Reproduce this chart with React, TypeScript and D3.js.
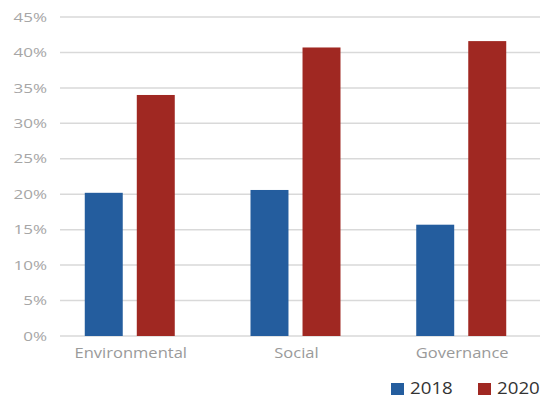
import React from "react";
import * as d3 from "d3";

const categories = ["Environmental", "Social", "Governance"];
const seriesNames = ["2018", "2020"];
const values2018 = [20.2, 20.6, 15.7];
const values2020 = [34.0, 40.7, 41.6];
const yTicks = [0, 5, 10, 15, 20, 25, 30, 35, 40, 45];
const colors = ["#245d9e", "#a02822"];

export default function App() {
  const W = 540, H = 398;
  const y = d3.scaleLinear().domain([0, 45]).range([336, 17]);
  const x0 = d3.scaleBand().domain(categories).range([47.4, 544.6]).paddingInner(0).paddingOuter(0);
  const x1 = d3.scaleBand().domain(seriesNames).range([-45.5, 44.5]).paddingInner(0.27).paddingOuter(0);
  const series = [values2018, values2020];
  const font = "'Open Sans', 'Noto Sans', sans-serif";
  return (
    <svg width={W} height={H} style={{ position: "absolute", left: 0, top: 0, background: "#fff" }}>
      {yTicks.map((t) => (
        <g key={t}>
          <line x1={60} x2={540} y1={y(t)} y2={y(t)} stroke="#d9d9d9" strokeWidth={1.5} />
          <text
            transform={`translate(47,${y(t)}) scale(1.28,1)`}
            dy="0.35em"
            textAnchor="end"
            fontFamily={font}
            fontSize={13.3}
            fill="#a6a6a6"
          >
            {t}%
          </text>
        </g>
      ))}
      {categories.map((c, i) => {
        const cx = x0(c)! + x0.bandwidth() / 2;
        return (
          <g key={c}>
            {seriesNames.map((s, j) => (
              <rect
                key={s}
                x={cx + x1(s)!}
                width={x1.bandwidth()}
                y={y(series[j][i])}
                height={y(0) - y(series[j][i])}
                fill={colors[j]}
              />
            ))}
            <text
              transform={`translate(${cx + 0.5},358) scale(1.14,1)`}
              textAnchor="middle"
              fontFamily={font}
              fontSize={14.5}
              fill="#9a9a9a"
            >
              {c}
            </text>
          </g>
        );
      })}
      {seriesNames.map((s, j) => {
        const lx = 391 + j * 87;
        return (
          <g key={s}>
            <rect x={lx} y={383} width={13} height={12} fill={colors[j]} />
            <text
              transform={`translate(${lx + 19},394) scale(1.17,1)`}
              fontFamily={font}
              fontSize={16}
              fill="#333"
            >
              {s}
            </text>
          </g>
        );
      })}
    </svg>
  );
}
